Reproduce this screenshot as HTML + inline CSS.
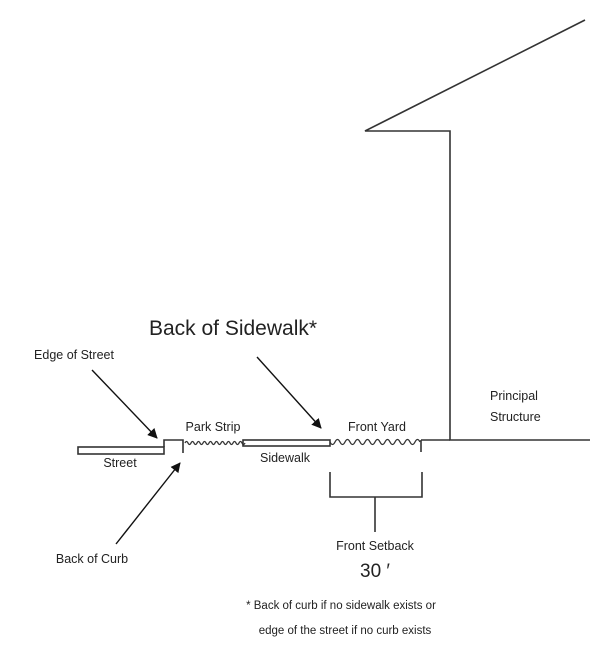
<!DOCTYPE html>
<html><head><style>
html,body{margin:0;padding:0;background:#fff;}
svg{display:block;}
text{font-family:"Liberation Sans",sans-serif;fill:#222;}
</style></head><body>
<svg width="600" height="653" viewBox="0 0 600 653" xmlns="http://www.w3.org/2000/svg">
<defs>
<marker id="ah" markerWidth="10" markerHeight="10" refX="9" refY="5" orient="auto" markerUnits="userSpaceOnUse">
<path d="M0,0 L10,5 L0,10 z" fill="#111"/>
</marker>
</defs>
<g stroke="#333" stroke-width="1.6" fill="none">
<polyline points="585,20 365,131 450,131 450,440 590,440"/>
<rect x="78" y="447" width="86" height="7"/>
<polyline points="164,447 164,440 183,440 183,453"/>
<path d="M185,443 q1.5,-3 3,0 t3,0 t3,0 t3,0 t3,0 t3,0 t3,0 t3,0 t3,0 t3,0 t3,0 t3,0 t3,0 t3,0 t3,0 t3,0 t3,0 t3,0 t3,0 t3,0" stroke-width="1.3"/>
<rect x="243" y="440" width="87" height="6"/>
<path d="M330,442 q2.5,5 5,0 t5,0 t5,0 t5,0 t5,0 t5,0 t5,0 t5,0 t5,0 t5,0 t5,0 t5,0 t5,0 t5,0 t5,0 t5,0 t5,0 t5,0" stroke-width="1.3"/>
<line x1="421" y1="440" x2="421" y2="452"/>
<line x1="421" y1="440" x2="450" y2="440"/>
<polyline points="330,472 330,497 422,497 422,472"/>
<line x1="375" y1="497" x2="375" y2="532"/>
</g>
<g stroke="#111" stroke-width="1.4">
<line x1="92" y1="370" x2="157" y2="438" marker-end="url(#ah)"/>
<line x1="257" y1="357" x2="321" y2="428" marker-end="url(#ah)"/>
<line x1="116" y1="544" x2="180" y2="463" marker-end="url(#ah)"/>
</g>
<text x="233" y="335" font-size="21" text-anchor="middle">Back of Sidewalk*</text>
<text x="74" y="359" font-size="12.5" text-anchor="middle">Edge of Street</text>
<text x="490" y="400" font-size="12.5">Principal</text>
<text x="490" y="421" font-size="12.5">Structure</text>
<text x="213" y="431" font-size="12.5" text-anchor="middle">Park Strip</text>
<text x="377" y="431" font-size="12.5" text-anchor="middle">Front Yard</text>
<text x="285" y="462" font-size="12.5" text-anchor="middle">Sidewalk</text>
<text x="120" y="467" font-size="12.5" text-anchor="middle">Street</text>
<text x="92" y="563" font-size="12.5" text-anchor="middle">Back of Curb</text>
<text x="375" y="550" font-size="12.5" text-anchor="middle">Front Setback</text>
<text x="375" y="577" font-size="19" text-anchor="middle">30 ′</text>
<text x="341" y="609" font-size="11.5" text-anchor="middle">* Back of curb if no sidewalk exists or</text>
<text x="345" y="634" font-size="11.5" text-anchor="middle">edge of the street if no curb exists</text>
</svg>
</body></html>
